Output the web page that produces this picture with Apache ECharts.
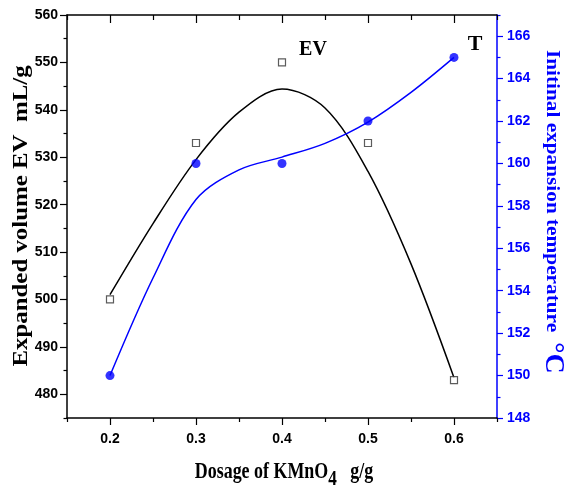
<!DOCTYPE html>
<html><head><meta charset="utf-8">
<script src="https://cdn.jsdelivr.net/npm/echarts@6/dist/echarts.min.js"></script>
<style>html,body{margin:0;padding:0;background:#fff}#c{width:568px;height:491px}</style>
</head><body><div id="c"></div>
<script>
// Measured data
const evX = [0.2, 0.3, 0.4, 0.5, 0.6];
const evValues = [500, 533, 550, 533, 483];
const tX = [0.2, 0.3, 0.4, 0.5, 0.6];
const tValues = [150, 160, 160, 162, 165];
// Fitted curves
const evFitX = [0.2, 0.25, 0.3, 0.35, 0.4, 0.45, 0.5, 0.55, 0.6];
const evFitValues = [501, 516, 529.5, 539.5, 544.4, 540.4, 527, 507.5, 483.5];
const tFitX = [0.2, 0.25, 0.3, 0.35, 0.4, 0.45, 0.5, 0.55, 0.6];
const tFitValues = [150, 154.6, 158.3, 159.7, 160.3, 160.95, 161.95, 163.35, 165];
// Tick values
const xMajorTicks = [0.2, 0.3, 0.4, 0.5, 0.6];
const xMinorTicks = [0.15, 0.25, 0.35, 0.45, 0.55, 0.65];
const leftMajorTicks = [480, 490, 500, 510, 520, 530, 540, 550, 560];
const leftMinorTicks = [475, 485, 495, 505, 515, 525, 535, 545, 555];
const rightMajorTicks = [148, 150, 152, 154, 156, 158, 160, 162, 164, 166];
const rightMinorTicks = [149, 151, 153, 155, 157, 159, 161, 163, 165, 167];

const BLUE = '#0000ff';
const tickFont = "'Liberation Sans Narrow','Liberation Sans',Arial,sans-serif";
const serif = "'Liberation Serif','Times New Roman',serif";

function pairs(xs, ys) { return xs.map((x, i) => [x, ys[i]]); }

function xAx(pos, ticks, len, inside, showLine, labels) {
  return {
    type: 'value', min: 0.15, max: 0.65, position: pos,
    axisLine: {show: showLine, onZero: false, lineStyle: {color: '#000', width: 1.5}},
    axisTick: {show: true, inside: inside, length: len, customValues: ticks, lineStyle: {color: '#000', width: 1.2}},
    axisLabel: labels ? {show: true, customValues: ticks, margin: 14, color: '#000', fontFamily: tickFont, fontWeight: 'bold', fontSize: 14, formatter: v => String(Math.round(v * 10) / 10)} : {show: false},
    splitLine: {show: false}
  };
}
function yAx(pos, min, max, ticks, len, showLine, labels, color, margin) {
  return {
    type: 'value', min: min, max: max, position: pos,
    axisLine: {show: showLine, onZero: false, lineStyle: {color: color, width: 1.5}},
    axisTick: {show: true, inside: false, length: len, customValues: ticks, lineStyle: {color: color, width: 1.2}},
    axisLabel: labels ? {show: true, customValues: ticks, margin: margin, color: color, fontFamily: tickFont, fontWeight: 'bold', fontSize: 14} : {show: false},
    splitLine: {show: false}
  };
}

const chart = echarts.init(document.getElementById('c'), null, {renderer: 'canvas'});
chart.setOption({
  backgroundColor: '#fff',
  animation: false,
  grid: {left: 67, right: 71, top: 15, bottom: 73, containLabel: false},
  xAxis: [
    xAx('bottom', xMajorTicks, 7, false, true, true),
    xAx('bottom', xMinorTicks, 4, false, false, false),
    xAx('top', xMajorTicks, 8, true, true, false),
    xAx('top', xMinorTicks, 5, true, false, false)
  ],
  yAxis: [
    yAx('left', 475, 560, leftMajorTicks, 7, true, true, '#000', 9),
    yAx('left', 475, 560, leftMinorTicks, 3.5, false, false, '#000', 9),
    yAx('right', 148, 167, rightMajorTicks, 6, true, true, BLUE, 10),
    yAx('right', 148, 167, rightMinorTicks, 3.5, false, false, BLUE, 10)
  ],
  series: [
    {type: 'line', xAxisIndex: 0, yAxisIndex: 0, data: pairs(evFitX, evFitValues), smooth: 0.33, showSymbol: false, symbol: 'none', lineStyle: {color: '#000', width: 1.5}, z: 2},
    {type: 'line', xAxisIndex: 0, yAxisIndex: 2, data: pairs(tFitX, tFitValues), smooth: 0.33, showSymbol: false, symbol: 'none', lineStyle: {color: BLUE, width: 1.5}, z: 2},
    {type: 'scatter', xAxisIndex: 0, yAxisIndex: 0, data: pairs(evX, evValues), symbol: 'rect', symbolSize: 7, itemStyle: {color: '#fff', borderColor: '#333', borderWidth: 1.2}, z: 3},
    {type: 'scatter', xAxisIndex: 0, yAxisIndex: 2, data: pairs(tX, tValues), symbol: 'circle', symbolSize: 9, itemStyle: {color: BLUE}, z: 3}
  ],
  graphic: [
    {type: 'text', x: 21, y: 216, rotation: Math.PI / 2, scaleX: 1.13,
      style: {text: 'Expanded volume EV  mL/g', font: 'bold 22px ' + serif, fill: '#000', align: 'center', verticalAlign: 'middle'}},
    {type: 'text', x: 552, y: 191, rotation: -Math.PI / 2, scaleX: 1.12,
      style: {text: 'Initinal expansion temperature', font: 'bold 19px ' + serif, fill: BLUE, align: 'center', verticalAlign: 'middle'}},
    {type: 'text', x: 553, y: 358, rotation: -Math.PI / 2,
      style: {text: '°C', font: 'bold 28px ' + serif, fill: BLUE, align: 'center', verticalAlign: 'middle'}},
    {type: 'text', x: 284, y: 472, scaleX: 0.78,
      style: {text: 'Dosage of KMnO{s|4}   g/g', font: 'bold 23px ' + serif, fill: '#000', align: 'center', verticalAlign: 'middle',
        rich: {s: {font: 'bold 22px ' + serif, fill: '#000', padding: [14, 0, 0, 0]}}}},
    {type: 'text', x: 313, y: 50,
      style: {text: 'EV', font: 'bold 20px ' + serif, fill: '#000', align: 'center', verticalAlign: 'middle'}},
    {type: 'text', x: 475, y: 44,
      style: {text: 'T', font: 'bold 22px ' + serif, fill: '#000', align: 'center', verticalAlign: 'middle'}}
  ]
});
</script>
</body></html>
